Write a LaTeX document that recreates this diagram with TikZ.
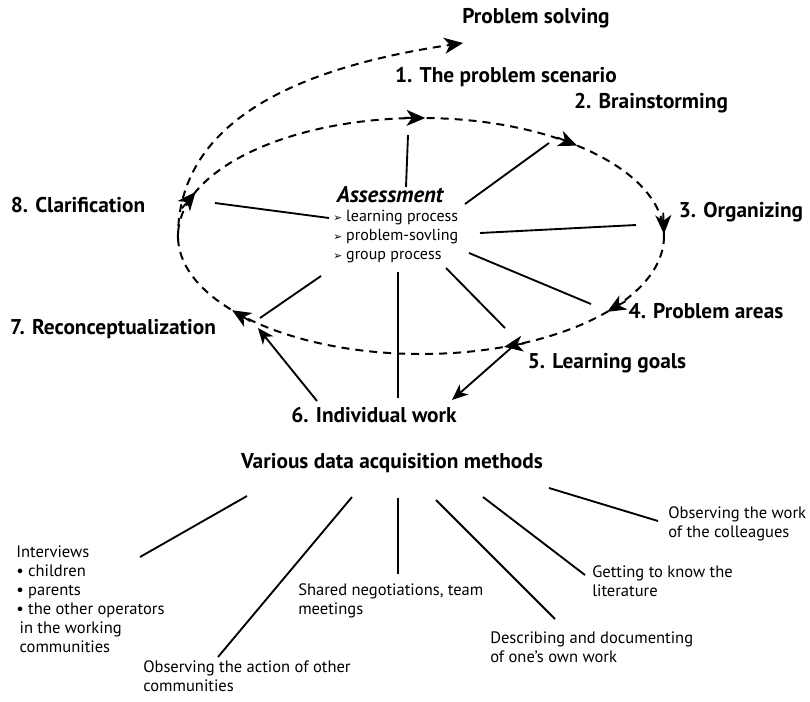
\documentclass[tikz,border=0pt]{standalone}
\usepackage{fontspec}
\setmainfont{PT Sans}
\newfontfamily\symfont{DejaVu Sans}
\usetikzlibrary{arrows.meta}

% arrowhead sitting on the dashed cycle at parameter angle #1,
% drawn on a short chord laid along the tangent of the ellipse
\newcommand\ringtip[1]{%
  \draw[ringhead] ({421+243*cos(#1)},{236+118*sin(#1)})
    ++({atan2(118*cos(#1),243*sin(#1))}:16pt) -- ({421+243*cos(#1)},{236+118*sin(#1)});}
\newcommand\pointer{{\symfont\fontsize{8}{9}\selectfont ➢}\hspace{3pt}}

\begin{document}
\begin{tikzpicture}[x=0.75pt,y=-0.75pt,
  stage/.style={font=\bfseries\fontsize{16}{18}\selectfont, inner sep=0},
  note/.style={font=\fontsize{12.4}{14.25}\selectfont, align=left, anchor=north west, inner sep=0},
  spoke/.style={line width=1.4pt},
  dashring/.style={line width=1.5pt, dash pattern=on 6pt off 4.5pt},
  bigtip/.style={-{Stealth[length=14pt,width=12pt,inset=4pt]}},
  ringhead/.style={line width=1.4pt, bigtip},
  pointhead/.style={line width=1.4pt, -{Stealth[length=12pt,width=10pt,inset=3.5pt]}}]

\useasboundingbox (0,0) rectangle (810,701);

% ---------- stage labels ----------
\node[stage] (solve) at (536,18) {Problem solving};
\node[stage] (s1) at (506,77) {1. The problem scenario};
\node[stage] (s2) at (651,103) {2. Brainstorming};
\node[stage] (s3) at (741,212) {3. Organizing};
\node[stage] (s4) at (706,311) {4. Problem areas};
\node[stage] (s5) at (607,363) {5. Learning goals};
\node[stage] (s6) at (374,415) {6. Individual work};
\node[stage] (s7) at (113,329) {7. Reconceptualization};
\node[stage] (s8) at (78,205) {8. Clarification};

% ---------- assessment in the middle ----------
\node[inner sep=0, font=\bfseries\itshape\fontsize{17}{19}\selectfont] (assess) at (390,195) {Assessment};
\node[note, font=\fontsize{12}{14.25}\selectfont] (crit) at (333,210)
  {\pointer learning process\\ \pointer problem-sovling\\ \pointer group process};

% ---------- the dashed cycle ----------
\coordinate (c) at (421,236);
\draw[dashring] (c) ellipse [x radius=243, y radius=118];
\ringtip{271}
\ringtip{310}
\ringtip{359}
\ringtip{40}
\ringtip{70}
\ringtip{141}
\ringtip{202}

% outer loop back to problem solving
\coordinate (loopA) at (178,240);
\coordinate (loopB) at (463,43);
\draw[dashring, bigtip]
  (loopA) .. controls (176,130) and (280,70) .. (loopB);

% ---------- spokes from the assessment ----------
\coordinate (a1) at (406,187);  \coordinate (e1) at (408,135);
\coordinate (a2) at (465,204);  \coordinate (e2) at (549,143);
\coordinate (a3) at (480,233);  \coordinate (e3) at (636,225);
\coordinate (a4) at (469,253);  \coordinate (e4) at (591,304);
\coordinate (a5) at (446,268);  \coordinate (e5) at (505,328);
\coordinate (a6) at (398,272);  \coordinate (e6) at (398,398);
\coordinate (a7) at (321,276);  \coordinate (e7) at (260,318);
\coordinate (a8) at (329,218);  \coordinate (e8) at (215,203);
\foreach \i in {1,...,8} \draw[spoke] (a\i) -- (e\i);

% individual work feeding back
\coordinate (w7) at (317,401);  \coordinate (r7) at (258,328);
\draw[pointhead] (w7) -- (r7);
\coordinate (g5) at (511,348);  \coordinate (w5) at (452,400);
\draw[pointhead] (g5) -- (w5);

% ---------- data acquisition methods ----------
\node[stage] (methods) at (392,463) {Various data acquisition methods};

\node[note] (interv) at (16,546)
  {Interviews\\ • children\\ • parents\\ • the other operators\\ \hspace{2.5pt}in the working\\ \hspace{2.5pt}communities};
\node[note] (action) at (143,660) {Observing the action of other\\ communities};
\node[note] (shared) at (298,583) {Shared negotiations, team\\ meetings};
\node[note] (docu) at (490,632) {Describing and documenting\\ of one’s own work};
\node[note] (lit) at (592,565) {Getting to know the\\ literature};
\node[note] (coll) at (668,506) {Observing the work\\ of the colleagues};

\coordinate (m1) at (247,496);  \coordinate (n1) at (140,557);
\coordinate (m2) at (352,497);  \coordinate (n2) at (218,657);
\coordinate (m3) at (398,498);  \coordinate (n3) at (398,574);
\coordinate (m4) at (436,500);  \coordinate (n4) at (555,619);
\coordinate (m5) at (483,497);  \coordinate (n5) at (585,575);
\coordinate (m6) at (549,488);  \coordinate (n6) at (658,521);
\foreach \i in {1,...,6} \draw[spoke] (m\i) -- (n\i);

\end{tikzpicture}
\end{document}
